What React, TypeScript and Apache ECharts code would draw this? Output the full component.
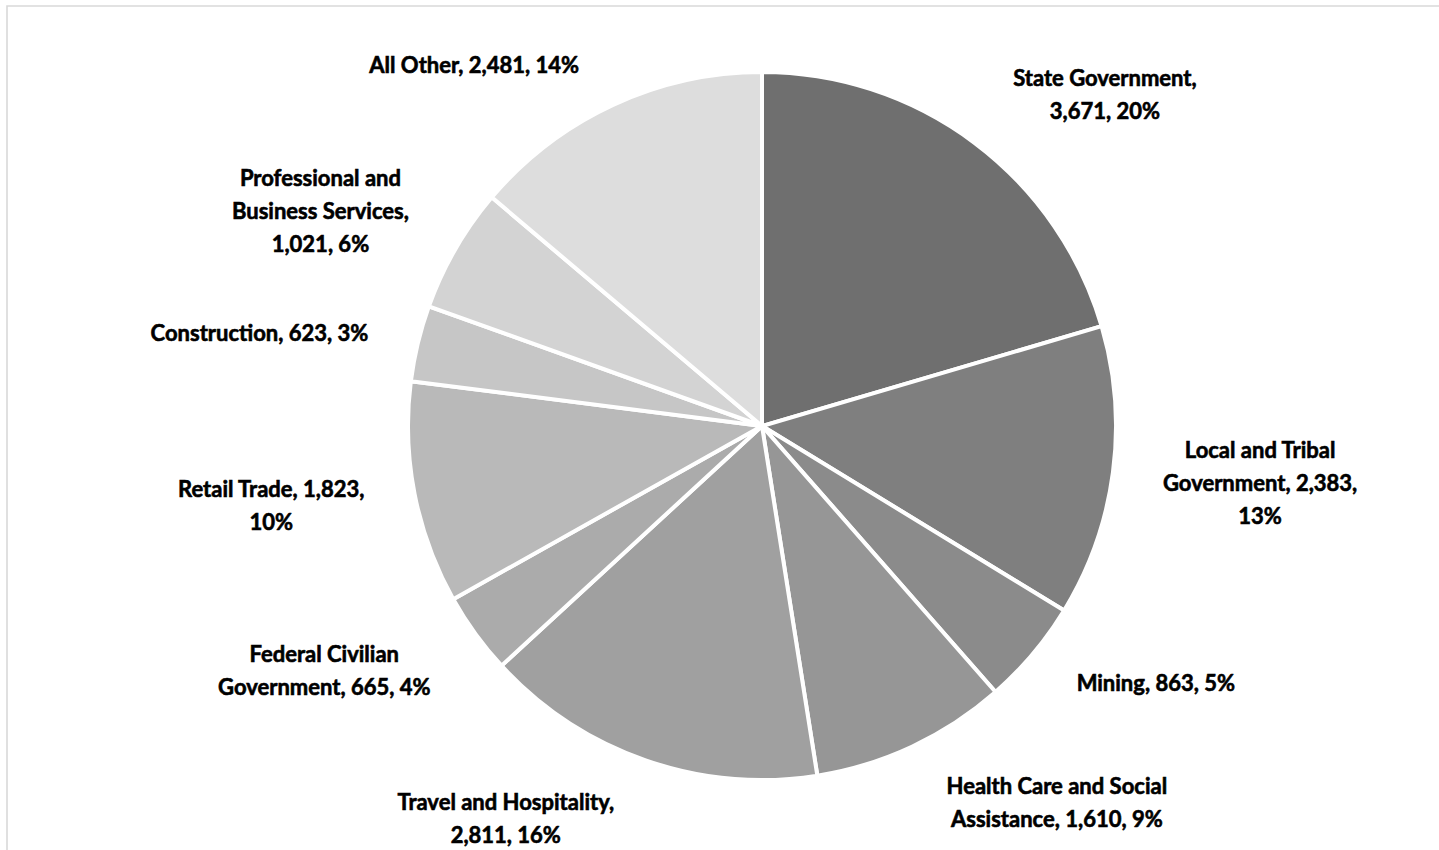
import React, { useEffect, useRef } from "react";
import * as echarts from "echarts";

const categories = [
  "State Government",
  "Local and Tribal Government",
  "Mining",
  "Health Care and Social Assistance",
  "Travel and Hospitality",
  "Federal Civilian Government",
  "Retail Trade",
  "Construction",
  "Professional and Business Services",
  "All Other",
];
const values = [3671, 2383, 863, 1610, 2811, 665, 1823, 623, 1021, 2481];
const colors = [
  "#6f6f6f",
  "#7f7f7f",
  "#8b8b8b",
  "#969696",
  "#a0a0a0",
  "#ababab",
  "#b9b9b9",
  "#c6c6c6",
  "#d3d3d3",
  "#dddddd",
];
// label text wrapping (Excel-style line breaks)
const displayNames = [
  "State Government",
  "Local and Tribal\nGovernment",
  "Mining",
  "Health Care and Social\nAssistance",
  "Travel and Hospitality",
  "Federal Civilian\nGovernment",
  "Retail Trade",
  "Construction",
  "Professional and\nBusiness Services",
  "All Other",
];
const sepNameValue = [",\n", ", ", ", ", ", ", ",\n", ", ", ", ", ", ", ",\n", ", "];
const sepValuePct = [", ", ",\n", ", ", ", ", ", ", ", ", ",\n", ", ", ", ", ", "];

const CENTER = [762, 426];
const RADIUS = 354;
const LABEL_GAP = 28;
const LABEL_XPAD = 22;

export default function App() {
  const ref = useRef<HTMLDivElement>(null);
  useEffect(() => {
    document.body.style.margin = "0";
    const chart = echarts.init(ref.current!, null, { renderer: "svg" });
    const total = values.reduce((a, b) => a + b, 0);
    const cum: number[] = [];
    let acc = 0;
    values.forEach((v) => {
      cum.push(acc + v / 2);
      acc += v;
    });
    chart.setOption({
      animation: false,
      backgroundColor: "#ffffff",
      graphic: [
        {
          type: "rect",
          shape: { x: 7, y: 6, width: 1500, height: 900 },
          style: { fill: "none", stroke: "#d9d9d9", lineWidth: 1.6 },
          silent: true,
        },
      ],
      series: [
        {
          type: "pie",
          center: CENTER,
          radius: RADIUS,
          startAngle: 90,
          clockwise: true,
          avoidLabelOverlap: false,
          data: categories.map((c, i) => ({
            name: c,
            value: values[i],
            itemStyle: { color: colors[i] },
          })),
          itemStyle: { borderColor: "#ffffff", borderWidth: 4 },
          labelLine: { show: false },
          label: {
            show: true,
            position: "outside",
            fontFamily: "Lato",
            fontWeight: "bold",
            fontSize: 22,
            lineHeight: 33,
            color: "#000000",
            textBorderColor: "#000000",
            textBorderWidth: 0.6,
            formatter: (p: any) =>
              displayNames[p.dataIndex] +
              sepNameValue[p.dataIndex] +
              values[p.dataIndex].toLocaleString("en-US") +
              sepValuePct[p.dataIndex] +
              Math.round(p.percent) +
              "%",
          },
          labelLayout: (p: any) => {
            const i = p.dataIndex;
            const theta = (cum[i] / total) * Math.PI * 2;
            const s = Math.sin(theta);
            const c = Math.cos(theta);
            const rr = RADIUS + LABEL_GAP;
            const w = p.labelRect.width;
            const h = p.labelRect.height;
            const x = CENTER[0] + rr * s + Math.sign(s) * (w / 2 + LABEL_XPAD);
            const y = CENTER[1] - rr * c - c * (h / 2);
            return { x, y, align: "center", verticalAlign: "middle" };
          },
          emphasis: { disabled: true },
        },
      ],
    });
    return () => chart.dispose();
  }, []);
  return (
    <div
      ref={ref}
      style={{ position: "fixed", left: 0, top: 0, width: 1439, height: 850 }}
    />
  );
}
